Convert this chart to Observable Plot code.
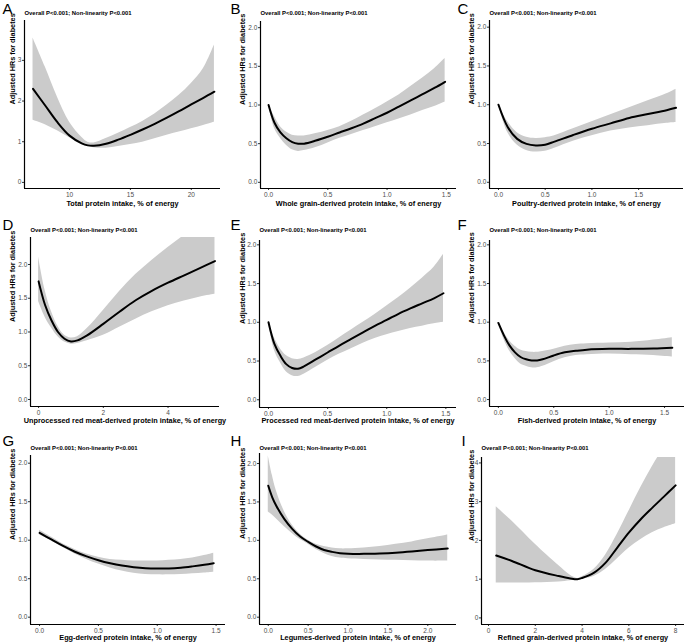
<!DOCTYPE html>
<html><head><meta charset="utf-8">
<script src="https://cdn.jsdelivr.net/npm/d3@7"></script>
<script src="https://cdn.jsdelivr.net/npm/@observablehq/plot@0.6"></script>
<style>
body{margin:0;background:#fff;}
#root{position:relative;width:685px;height:643px;overflow:hidden;font-family:"Liberation Sans",Arial,sans-serif;}
#root svg{position:absolute;}
</style></head><body><div id="root"></div>
<script>
const subtitle = "Overall P<0.001; Non-linearity P<0.001";
const yLabel = "Adjusted HRs for diabetes";
const letters = ["A","B","C","D","E","F","G","H","I"];
const xLabels = [
  "Total protein intake, % of energy",
  "Whole grain-derived protein intake, % of energy",
  "Poultry-derived protein intake, % of energy",
  "Unprocessed red meat-derived protein intake, % of energy",
  "Processed red meat-derived protein intake, % of energy",
  "Fish-derived protein intake, % of energy",
  "Egg-derived protein intake, % of energy",
  "Legumes-derived protein intake, % of energy",
  "Refined grain-derived protein intake, % of energy"
];

// A: total protein
const aX   = [7,8,9,10,11,11.5,12,13,14,15,16,17,18,19,20,21,21.9];
const aFit = [2.30,1.89,1.48,1.15,0.96,0.91,0.90,0.95,1.05,1.17,1.30,1.44,1.59,1.75,1.92,2.08,2.23];
const aLo  = [1.53,1.42,1.27,1.10,0.94,0.89,0.85,0.84,0.88,0.93,0.99,1.07,1.16,1.24,1.32,1.40,1.48];
const aHi  = [3.55,2.84,2.10,1.48,1.11,0.99,0.97,1.08,1.21,1.35,1.50,1.68,1.90,2.14,2.43,2.80,3.38];
// B: whole grain
const bX   = [0,0.05,0.1,0.15,0.2,0.25,0.3,0.4,0.5,0.6,0.7,0.8,0.9,1.0,1.1,1.2,1.3,1.4,1.49];
const bFit = [1.0,0.77,0.645,0.57,0.52,0.50,0.50,0.54,0.59,0.645,0.70,0.76,0.83,0.90,0.98,1.06,1.14,1.22,1.30];
const bLo  = [1.0,0.70,0.57,0.48,0.42,0.40,0.41,0.45,0.51,0.57,0.62,0.67,0.72,0.77,0.82,0.87,0.93,0.98,1.04];
const bHi  = [1.0,0.85,0.72,0.65,0.61,0.60,0.60,0.63,0.67,0.72,0.79,0.87,0.95,1.04,1.13,1.24,1.35,1.47,1.60];
// C: poultry
const cX   = [0,0.1,0.2,0.3,0.4,0.5,0.6,0.8,1.0,1.2,1.4,1.6,1.8,1.9];
const cFit = [1.0,0.71,0.56,0.495,0.475,0.485,0.525,0.61,0.69,0.76,0.83,0.88,0.93,0.96];
const cLo  = [1.0,0.64,0.48,0.41,0.39,0.40,0.44,0.53,0.60,0.66,0.70,0.73,0.76,0.77];
const cHi  = [1.0,0.78,0.64,0.58,0.565,0.575,0.60,0.69,0.78,0.87,0.96,1.05,1.14,1.20];
// D: unprocessed red meat
const dX   = [0,0.2,0.4,0.6,0.8,1.0,1.2,1.5,2.0,2.5,3.0,3.5,4.0,4.5,5.0,5.45];
const dFit = [1.75,1.40,1.17,1.0,0.90,0.86,0.875,0.95,1.12,1.30,1.47,1.61,1.73,1.84,1.95,2.05];
const dLo  = [1.45,1.22,1.06,0.93,0.85,0.82,0.83,0.87,0.95,1.07,1.19,1.30,1.39,1.46,1.52,1.56];
const dHi  = [2.11,1.62,1.30,1.08,0.95,0.91,0.93,1.05,1.32,1.60,1.85,2.06,2.25,2.43,2.60,2.76];
// E: processed red meat
const eX   = [0,0.05,0.1,0.15,0.2,0.25,0.3,0.4,0.5,0.6,0.7,0.8,0.9,1.0,1.1,1.2,1.3,1.4,1.48];
const eFit = [1.0,0.72,0.57,0.46,0.41,0.40,0.43,0.52,0.61,0.70,0.785,0.87,0.955,1.03,1.11,1.18,1.245,1.31,1.375];
const eLo  = [1.0,0.64,0.48,0.36,0.31,0.30,0.33,0.42,0.51,0.59,0.66,0.73,0.79,0.84,0.88,0.92,0.95,0.98,1.0];
const eHi  = [1.0,0.80,0.66,0.57,0.53,0.52,0.54,0.61,0.70,0.80,0.90,1.00,1.10,1.21,1.32,1.44,1.57,1.71,1.88];
// F: fish
const fX   = [0,0.05,0.1,0.15,0.2,0.25,0.3,0.35,0.4,0.5,0.6,0.7,0.8,1.0,1.2,1.4,1.57];
const fFit = [0.99,0.83,0.70,0.61,0.55,0.52,0.505,0.505,0.52,0.57,0.61,0.63,0.645,0.655,0.655,0.66,0.67];
const fLo  = [0.99,0.78,0.63,0.53,0.46,0.43,0.41,0.41,0.43,0.49,0.54,0.57,0.58,0.59,0.58,0.57,0.55];
const fHi  = [0.99,0.87,0.76,0.69,0.64,0.62,0.61,0.61,0.62,0.65,0.69,0.71,0.72,0.73,0.74,0.77,0.80];
// G: egg
const gX   = [0,0.1,0.2,0.3,0.4,0.5,0.6,0.7,0.8,0.9,1.0,1.1,1.2,1.3,1.4,1.48];
const gFit = [1.095,1.01,0.925,0.85,0.79,0.74,0.70,0.67,0.65,0.637,0.632,0.633,0.643,0.66,0.68,0.70];
const gLo  = [1.07,0.99,0.905,0.82,0.75,0.69,0.64,0.60,0.57,0.555,0.55,0.55,0.555,0.565,0.575,0.585];
const gHi  = [1.13,1.04,0.95,0.88,0.82,0.78,0.75,0.74,0.73,0.73,0.73,0.74,0.75,0.77,0.80,0.83];
// H: legumes
const hX   = [0,0.05,0.1,0.2,0.3,0.4,0.5,0.6,0.7,0.8,0.9,1.0,1.2,1.4,1.6,1.8,2.0,2.25];
const hFit = [1.71,1.56,1.45,1.28,1.15,1.05,0.98,0.92,0.875,0.85,0.833,0.826,0.824,0.83,0.84,0.855,0.873,0.895];
const hLo  = [1.37,1.33,1.28,1.18,1.09,1.01,0.95,0.88,0.83,0.79,0.77,0.76,0.75,0.745,0.74,0.735,0.73,0.73];
const hHi  = [2.1,1.85,1.65,1.38,1.20,1.08,1.0,0.95,0.92,0.90,0.89,0.89,0.90,0.92,0.95,0.98,1.02,1.07];
// I: refined grain
const iX   = [0.33,1,2,3,3.5,3.8,4,4.5,5,5.5,6,6.5,7,7.5,8];
const iFit = [1.61,1.47,1.23,1.08,1.02,1.0,1.03,1.16,1.42,1.81,2.20,2.54,2.84,3.13,3.42];
const iLo  = [0.90,0.90,0.91,0.93,0.96,0.99,1.0,1.07,1.25,1.52,1.80,2.02,2.20,2.33,2.43];
const iHi  = [2.87,2.50,1.90,1.35,1.10,1.02,1.06,1.25,1.62,2.15,2.75,3.35,3.90,4.40,4.90];

// tick values
const xTicksA = [10,15,20];
const xTicksHalf = [0,0.5,1.0,1.5];
const xTicksD = [0,2,4];
const xTicksH = [0,0.5,1.0,1.5,2.0];
const xTicksI = [0,2,4,6,8];
const yTicksInt = [0,1,2,3];
const yTicksHalf = [0,0.5,1.0,1.5,2.0];
const yTicksI = [0,1,2,3,4];

const series = [
  [aX,aFit,aLo,aHi],[bX,bFit,bLo,bHi],[cX,cFit,cLo,cHi],
  [dX,dFit,dLo,dHi],[eX,eFit,eLo,eHi],[fX,fFit,fLo,fHi],
  [gX,gFit,gLo,gHi],[hX,hFit,hLo,hHi],[iX,iFit,iLo,iHi]
];

// layout: cell columns/rows, plot rect [x0,x1,y0,y1], domains
const cols = [[0,228],[228,227],[455,230]];
const rowsL = [[0,212],[212,213],[425,218]];
const layout = [
  {rect:[24,220,20,188],  xd:[6.3,22.4],    yd:[-0.15,3.98],  xt:xTicksA,   xf:"d",   yt:yTicksInt,  yf:"d"},
  {rect:[260,456,21,188], xd:[-0.068,1.586],yd:[-0.08,2.08],  xt:xTicksHalf,xf:".1f", yt:yTicksHalf, yf:".1f"},
  {rect:[489,683,20,188], xd:[-0.096,1.98], yd:[-0.08,2.086], xt:xTicksHalf,xf:".1f", yt:yTicksHalf, yf:".1f"},
  {rect:[30,219,237,406], xd:[-0.25,5.59],  yd:[-0.104,2.40], xt:xTicksD,   xf:"d",   yt:yTicksHalf, yf:".1f"},
  {rect:[259,456,240,407],xd:[-0.076,1.59], yd:[-0.10,2.056], xt:xTicksHalf,xf:".1f", yt:yTicksHalf, yf:".1f"},
  {rect:[489,684,240,406],xd:[-0.08,1.68],  yd:[-0.09,2.056], xt:xTicksHalf,xf:".1f", yt:yTicksHalf, yf:".1f"},
  {rect:[30,225,455,624], xd:[-0.077,1.58], yd:[-0.095,2.10], xt:xTicksHalf,xf:".1f", yt:yTicksHalf, yf:".1f"},
  {rect:[259,456,453,624],xd:[-0.11,2.36],  yd:[-0.095,2.13], xt:xTicksH,   xf:".1f", yt:yTicksHalf, yf:".1f"},
  {rect:[481,684,457,624],xd:[-0.3,8.38],   yd:[-0.17,4.14],  xt:xTicksI,   xf:"d",   yt:yTicksI,    yf:"d"}
];
const letterX = [2, 2, 2, 2, 2, 2, 2, 2, 6];
const letterY = [8.7, 224.5, 440.5];
const subY = [12.7, 230, 448];
const xLabY = [203.5, 420.5, 637.5];
const yLabX = [12.5, 242, 471];

const root = document.getElementById("root");
const FONT = '"Liberation Sans", Arial, sans-serif';

series.forEach(([X, fit, lo, hi], k) => {
  const L = layout[k];
  const [cl, cw] = cols[k % 3];
  const [ct, ch] = rowsL[Math.floor(k / 3)];
  const r = Math.floor(k / 3), c = k % 3;
  const [x0, x1, y0, y1] = L.rect;
  const data = X.map((x, i) => ({x, fit: fit[i], lo: lo[i], hi: hi[i]}));
  const chart = Plot.plot({
    width: cw, height: ch,
    marginLeft: x0 - cl, marginRight: cl + cw - x1,
    marginTop: y0 - ct, marginBottom: ct + ch - y1,
    style: {fontFamily: FONT, fontSize: "6.5px", color: "#4d4d4d", background: "transparent", overflow: "visible"},
    x: {domain: L.xd, label: null},
    y: {domain: L.yd, label: null},
    marks: [
      Plot.areaY(data, {x: "x", y1: "lo", y2: "hi", fill: "#cbcbcb", curve: "catmull-rom", clip: true}),
      Plot.lineY(data, {x: "x", y: "fit", stroke: "black", strokeWidth: 2, curve: "catmull-rom", clip: true}),
      Plot.axisX({ticks: L.xt, tickFormat: L.xf, tickSize: 2, tickPadding: 1.5, label: null, stroke: "#333", fill: "#4d4d4d", fontSize: 6.5}),
      Plot.axisY({ticks: L.yt, tickFormat: L.yf, tickSize: 2, tickPadding: 1.2, label: null, stroke: "#333", fill: "#4d4d4d", fontSize: 6.5}),
      Plot.ruleY([L.yd[0]], {stroke: "black", strokeWidth: 1.2}),
      Plot.ruleX([L.xd[0]], {stroke: "black", strokeWidth: 1.2}),
      Plot.text([letters[k]], {text: d => d, frameAnchor: "top-left", dx: (cl + letterX[k]) - x0, dy: letterY[r] - y0,
        textAnchor: "start", lineAnchor: "middle", fontSize: 15, fill: "black"}),
      Plot.text([subtitle], {text: d => d, frameAnchor: "top-left", dy: subY[r] - y0,
        textAnchor: "start", lineAnchor: "middle", fontSize: 5.9, fontWeight: "bold", fill: "black"}),
      Plot.text([xLabels[k]], {text: d => d, frameAnchor: "bottom", dy: xLabY[r] - y1,
        lineAnchor: "middle", fontSize: 7.3, fontWeight: "bold", fill: "black"}),
      Plot.text([yLabel], {text: d => d, frameAnchor: "left", dx: yLabX[c] - x0, rotate: -90,
        lineAnchor: "middle", fontSize: 7.3, fontWeight: "bold", fill: "black"})
    ]
  });
  chart.style.left = cl + "px";
  chart.style.top = ct + "px";
  root.appendChild(chart);
});
</script>
</body></html>
